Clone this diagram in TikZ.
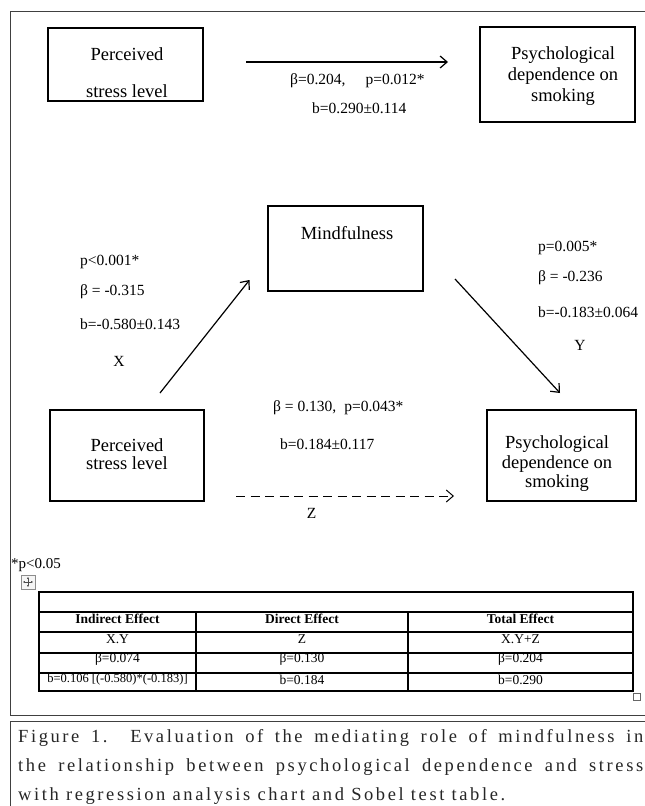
\documentclass[tikz,border=0pt]{standalone}
\usepackage{fontspec}
\setmainfont{Liberation Serif}
\newfontfamily\capfont[LetterSpace=14]{Liberation Serif}
\usetikzlibrary{arrows.meta}
\begin{document}
\begin{tikzpicture}[x=1pt,y=-1pt,
  box/.style={draw, line width=1.1pt, inner sep=0pt},
  boxtxt/.style={font=\fontsize{18.5}{18.5}\selectfont, inner sep=0pt, align=center},
  lab/.style={font=\fontsize{15.5}{16}\selectfont, inner sep=0pt, anchor=west},
  clab/.style={font=\fontsize{15.5}{16}\selectfont, inner sep=0pt},
  arr/.style={line width=1.2pt, -{Straight Barb[length=7pt,width=12pt,line width=1.2pt]}},
  darr/.style={line width=1pt, dash pattern=on 9pt off 5.5pt, -{Straight Barb[length=7pt,width=12pt,line width=1pt]}},
  tab/.style={line width=1.2pt},
  cell/.style={font=\fontsize{13.5}{13.5}\selectfont, inner sep=0pt},
  frame/.style={draw=black!75, line width=0.9pt},
  captxt/.style={anchor=base west, inner sep=0pt, text=black!85, font=\capfont\fontsize{18.5}{18.5}\selectfont},
]
\clip (0,0) rectangle (645,806);
\fill[white] (0,0) rectangle (645,806);
\draw[frame] (10,11) rectangle (660,715);
\draw[frame] (10,721) rectangle (660,830);

% top row
\node[box, minimum width=155pt, minimum height=73pt] (ps1) at (125.5,64.5) {};
\node[boxtxt] (ps1a) at (127,54) {Perceived};
\node[boxtxt] (ps1b) at (127,91) {stress level};
\node[box, minimum width=155pt, minimum height=95pt] (pd1) at (557.5,74.5) {};
\node[boxtxt, font=\fontsize{18.5}{21}\selectfont] (pd1t) at (563,76) {Psychological\\dependence on\\smoking};
\coordinate (a1s) at (246,62);
\coordinate (a1e) at (448,62);
\draw[arr] (a1s) -- (a1e);
\node[lab] (l1) at (290,81) {β=0.204,\hspace{20pt}p=0.012*};
\node[lab] (l2) at (312,108) {b=0.290±0.114};

% mediator
\node[box, minimum width=155pt, minimum height=85pt] (mf) at (345.5,248.5) {};
\node[boxtxt] (mft) at (347,233) {Mindfulness};
\node[lab] (lx1) at (80,262) {p<0.001*};
\node[lab] (lx2) at (80,292) {β = -0.315};
\node[lab] (lx3) at (80,324) {b=-0.580±0.143};
\node[clab] (lx4) at (119,361) {X};
\node[lab] (ly1) at (538,248) {p=0.005*};
\node[lab] (ly2) at (538,278) {β = -0.236};
\node[lab] (ly3) at (538,312) {b=-0.183±0.064};
\node[clab] (ly4) at (580,345) {Y};
\coordinate (axs) at (160,393);
\coordinate (axe) at (249.5,280);
\coordinate (ays) at (455,279);
\coordinate (aye) at (560,393);
\draw[arr] (axs) -- (axe);
\draw[arr] (ays) -- (aye);

% bottom row
\node[box, minimum width=154pt, minimum height=91pt] (ps2) at (127,455.5) {};
\node[boxtxt, font=\fontsize{18.5}{18.5}\selectfont] (ps2t) at (127,454) {Perceived\\stress level};
\node[box, minimum width=149pt, minimum height=91pt] (pd2) at (561.5,455.5) {};
\node[boxtxt, font=\fontsize{18.5}{19.5}\selectfont] (pd2t) at (557,464) {Psychological\\dependence on\\smoking};
\node[lab] (lz1) at (273,408) {β = 0.130,\hspace{8pt}p=0.043*};
\node[lab] (lz2) at (280,444) {b=0.184±0.117};
\coordinate (azs) at (236,496);
\coordinate (aze) at (454,496);
\draw[darr] (azs) -- (aze);
\node[clab] (lz3) at (311.5,513) {Z};

\node[lab, font=\fontsize{15}{15}\selectfont] (sig) at (11,565) {*p<0.05};

% table handle
\node[draw=black!45, fill=black!4, line width=0.6pt, minimum size=14pt, inner sep=0pt] (mv) at (28,582) {};
\draw[black!70, line width=0.6pt, {Latex[length=1.8pt,width=2.2pt]}-{Latex[length=1.8pt,width=2.2pt]}] (23,582) -- (33,582);
\draw[black!70, line width=0.6pt, {Latex[length=1.8pt,width=2.2pt]}-{Latex[length=1.8pt,width=2.2pt]}] (28,577) -- (28,587);

% table
\draw[tab] (39,592) rectangle (633,691);
\foreach \yy in {612,632,653,673} \draw[tab] (39,\yy) -- (633,\yy);
\draw[tab] (196,612) -- (196,691);
\draw[tab] (408,612) -- (408,691);
\node[cell, font=\bfseries\fontsize{13.5}{13.5}\selectfont] (h1) at (117.5,619) {Indirect Effect};
\node[cell, font=\bfseries\fontsize{13.5}{13.5}\selectfont] (h2) at (302,619) {Direct Effect};
\node[cell, font=\bfseries\fontsize{13.5}{13.5}\selectfont] (h3) at (520.5,619) {Total Effect};
\node[cell] (r1a) at (117.5,639.5) {X.Y};
\node[cell] (r1b) at (302,639.5) {Z};
\node[cell] (r1c) at (520.5,639.5) {X.Y+Z};
\node[cell] (r2a) at (117.5,659.5) {β=0.074};
\node[cell] (r2b) at (302,659.5) {β=0.130};
\node[cell] (r2c) at (520.5,659.5) {β=0.204};
\node[cell, font=\fontsize{12.5}{13}\selectfont] (r3a) at (117.5,679.5) {b=0.106 [(-0.580)*(-0.183)]};
\node[cell] (r3b) at (302,679.5) {b=0.184};
\node[cell] (r3c) at (520.5,679.5) {b=0.290};
\node[draw=black!60, line width=0.6pt, minimum size=7pt, inner sep=0pt] (rs) at (637,697) {};

% caption
\node[captxt] (cap1) at (18,742) {\makebox[625pt][s]{Figure 1. Evaluation of the mediating role of mindfulness in}};
\node[captxt] (cap2) at (18,771) {\makebox[625pt][s]{the relationship between psychological dependence and stress}};
\node[captxt] (cap3) at (18,800) {with regression analysis chart and Sobel test table.};
\end{tikzpicture}
\end{document}
